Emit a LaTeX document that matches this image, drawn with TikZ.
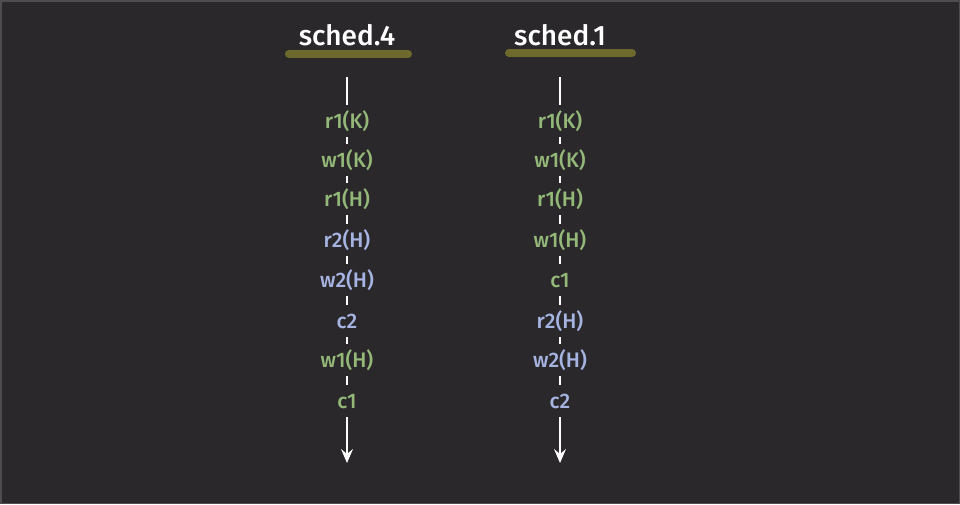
\documentclass[tikz,border=0pt]{standalone}
\usepackage{fontspec}
\setmainfont{Fira Sans}[UprightFont={* Medium}, BoldFont={* SemiBold}]
\usetikzlibrary{arrows.meta}
\definecolor{bg}{HTML}{2A282B}
\definecolor{edge}{HTML}{4E4C50}
\definecolor{olive}{HTML}{6E6A2E}
\definecolor{grn}{HTML}{93B878}
\definecolor{blu}{HTML}{A6B4E2}
\tikzset{
  op/.style={font=\fontsize{21}{24}\selectfont, inner sep=0pt, minimum height=32pt, text height=17pt, text depth=3pt},
  g/.style={op, text=grn},
  b/.style={op, text=blu},
  title/.style={font=\fontsize{28}{32}\selectfont, text=white, inner sep=0pt},
  bar/.style={draw=olive, line width=8pt, line cap=round},
  tl/.style={draw=white, line width=1.7pt},
  tip/.style={-{Stealth[length=14pt,width=12pt,inset=5pt]}},
}
\begin{document}
\begin{tikzpicture}[x=1pt,y=-1pt]
\useasboundingbox (0,0) rectangle (960,504);
\fill[bg] (0,0) rectangle (960,504);
\draw[edge, line width=1.5pt] (0.75,0.75) rectangle (959.25,503.25);
% left column
\node[title] (t1) at (347,35) {sched.4};
\draw[bar] (289,54) -- (408,54);
\coordinate (s1) at (347,77);
\node[g] (a1) at (347,121) {r1(K)};
\node[g] (a2) at (347,160) {w1(K)};
\node[g] (a3) at (347,199) {r1(H)};
\node[b] (a4) at (347,240) {r2(H)};
\node[b] (a5) at (347,280) {w2(H)};
\node[b] (a6) at (347,321) {c2};
\node[g] (a7) at (347,360) {w1(H)};
\node[g] (a8) at (347,401) {c1};
\coordinate (e1) at (347,463);
\draw[tl] (s1) -- (a1);
\foreach \i/\j in {1/2,2/3,3/4,4/5,5/6,6/7,7/8} \draw[tl] (a\i) -- (a\j);
\draw[tl, tip] (a8) -- (e1);
% right column
\node[title] (t2) at (560,35) {sched.1};
\draw[bar] (509,53) -- (632,53);
\coordinate (s2) at (560,77);
\node[g] (b1) at (560,121) {r1(K)};
\node[g] (b2) at (560,160) {w1(K)};
\node[g] (b3) at (560,199) {r1(H)};
\node[g] (b4) at (560,240) {w1(H)};
\node[g] (b5) at (560,280) {c1};
\node[b] (b6) at (560,321) {r2(H)};
\node[b] (b7) at (560,360) {w2(H)};
\node[b] (b8) at (560,401) {c2};
\coordinate (e2) at (560,463);
\draw[tl] (s2) -- (b1);
\foreach \i/\j in {1/2,2/3,3/4,4/5,5/6,6/7,7/8} \draw[tl] (b\i) -- (b\j);
\draw[tl, tip] (b8) -- (e2);
\end{tikzpicture}
\end{document}
